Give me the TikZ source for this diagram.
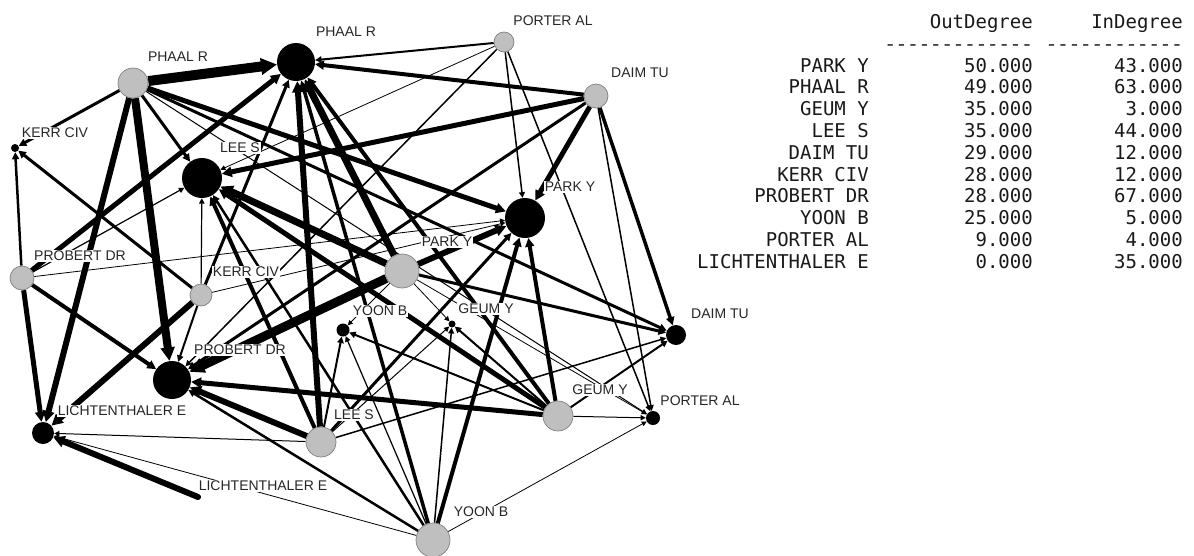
\documentclass[tikz,border=0pt]{standalone}
\usepackage{fontspec}
\setmainfont{Liberation Sans}
\newfontfamily\tabfont{DejaVu Sans Mono}
\newfontfamily\dashfont{Liberation Mono}
\usetikzlibrary{arrows.meta, backgrounds}

\begin{document}
\begin{tikzpicture}[x=1pt, y=-1pt,
    emissor/.style={circle, draw=black!50, fill=black!25, line width=0.7pt, inner sep=0pt},
    receptor/.style={circle, fill=black, inner sep=0pt},
    rotulo/.style={fill=white, inner sep=1pt, font=\fontsize{14}{16}\selectfont, text=black!85},
    lig/.style={-{Triangle[length=4pt 1.2, width=4pt 1.2]}, black},
    tabela/.style={font=\tabfont\fontsize{19}{22}\selectfont, text=black!90, inner sep=0pt, anchor=base east}
]
    \useasboundingbox (0,0) rectangle (1194,555);

    % atores como emissores (cinza)
    \node[emissor, minimum size=30pt] (gPhaal)   at (133,83)  {};
    \node[emissor, minimum size=20pt] (gPorter)  at (504,42)  {};
    \node[emissor, minimum size=24pt] (gDaim)    at (596,96)  {};
    \node[emissor, minimum size=24pt] (gProbert) at (22,278)  {};
    \node[emissor, minimum size=22pt] (gKerr)    at (201,295) {};
    \node[emissor, minimum size=34pt] (gPark)    at (402,271) {};
    \node[emissor, minimum size=30pt] (gGeum)    at (558,416) {};
    \node[emissor, minimum size=30pt] (gLee)     at (321,442) {};
    \node[emissor, minimum size=34pt] (gYoon)    at (433,540) {};
    \coordinate (gLicht) at (198,497);

    % atores como receptores (preto)
    \node[receptor, minimum size=38pt] (bPhaal)   at (296,62)  {};
    \node[receptor, minimum size=40pt] (bLee)     at (202,178) {};
    \node[receptor, minimum size=40pt] (bPark)    at (525,218) {};
    \node[receptor, minimum size=8pt]  (bKerr)    at (15,148)  {};
    \node[receptor, minimum size=38pt] (bProbert) at (172,380) {};
    \node[receptor, minimum size=22pt] (bLicht)   at (43,433)  {};
    \node[receptor, minimum size=13pt] (bYoon)    at (343,330) {};
    \node[receptor, minimum size=7pt]  (bGeum)    at (452,324) {};
    \node[receptor, minimum size=20pt] (bDaim)    at (676,335) {};
    \node[receptor, minimum size=14pt] (bPorter)  at (653,418) {};

    \begin{pgfonlayer}{background}
    \draw[lig, line width=10pt] (gPhaal) -- (bPhaal);
    \draw[lig, line width=3pt] (gPhaal) -- (bKerr);
    \draw[lig, line width=6pt] (gPhaal) -- (bLicht);
    \draw[lig, line width=8pt] (gPhaal) -- (bProbert);
    \draw[lig, line width=3pt] (gPhaal) -- (bLee);
    \draw[lig, line width=5pt] (gPhaal) -- (bPark);
    \draw[lig, line width=3pt] (gPhaal) -- (bDaim);
    \draw[lig, line width=1pt] (gPhaal) -- (bPorter);

    \draw[lig, line width=2pt] (gPorter) -- (bPhaal);
    \draw[lig, line width=0.8pt] (gPorter) -- (bLee);
    \draw[lig, line width=1.5pt] (gPorter) -- (bProbert);
    \draw[lig, line width=1.5pt] (gPorter) -- (bPark);
    \draw[lig, line width=1.5pt] (gPorter) -- (bPorter);

    \draw[lig, line width=4pt] (gDaim) -- (bPhaal);
    \draw[lig, line width=5pt] (gDaim) -- (bLee);
    \draw[lig, line width=3pt] (gDaim) -- (bProbert);
    \draw[lig, line width=5pt] (gDaim) -- (bPark);
    \draw[lig, line width=3.5pt] (gDaim) -- (bDaim);
    \draw[lig, line width=1.5pt] (gDaim) -- (bPorter);

    \draw[lig, line width=2.5pt] (gProbert) -- (bKerr);
    \draw[lig, line width=5pt] (gProbert) -- (bLicht);
    \draw[lig, line width=4pt] (gProbert) -- (bProbert);
    \draw[lig, line width=0.8pt] (gProbert) -- (bPark);
    \draw[lig, line width=5pt] (gProbert) -- (bPhaal);
    \draw[lig, line width=1.2pt] (gProbert) -- (bLee);

    \draw[lig, line width=1.2pt] (gKerr) -- (bLee);
    \draw[lig, line width=2pt] (gKerr) -- (bProbert);
    \draw[lig, line width=3pt] (gKerr) -- (bKerr);
    \draw[lig, line width=0.8pt] (gKerr) -- (bPark);
    \draw[lig, line width=6pt] (gKerr) -- (bLicht);
    \draw[lig, line width=3pt] (gKerr) -- (bPhaal);

    \draw[lig, line width=6pt] (gPark) -- (bPark);
    \draw[lig, line width=7pt] (gPark) -- (bLee);
    \draw[lig, line width=9pt] (gPark) -- (bProbert);
    \draw[lig, line width=7pt] (gPark) -- (bPhaal);
    \draw[lig, line width=0.8pt] (gPark) -- (bGeum);
    \draw[lig, line width=3pt] (gPark) -- (bDaim);
    \draw[lig, line width=0.8pt] (gPark) -- (bPorter);
    \draw[lig, line width=0.8pt] (gPark) -- (bYoon);

    \draw[lig, line width=4pt] (gGeum) -- (bPark);
    \draw[lig, line width=5pt] (gGeum) -- (bLee);
    \draw[lig, line width=4pt] (gGeum) -- (bPhaal);
    \draw[lig, line width=5pt] (gGeum) -- (bProbert);
    \draw[lig, line width=2pt] (gGeum) -- (bYoon);
    \draw[lig, line width=2pt] (gGeum) -- (bGeum);
    \draw[lig, line width=2pt] (gGeum) -- (bDaim);
    \draw[lig, line width=1pt] (gGeum) -- (bPorter);

    \draw[lig, line width=6pt] (gLee) -- (bPhaal);
    \draw[lig, line width=4pt] (gLee) -- (bLee);
    \draw[lig, line width=6pt] (gLee) -- (bProbert);
    \draw[lig, line width=1pt] (gLee) -- (bLicht);
    \draw[lig, line width=3pt] (gLee) -- (bPark);
    \draw[lig, line width=2pt] (gLee) -- (bYoon);
    \draw[lig, line width=1.5pt] (gLee) -- (bDaim);
    \draw[lig, line width=1pt] (gLee) -- (bGeum);

    \draw[lig, line width=4pt] (gYoon) -- (bPark);
    \draw[lig, line width=3.5pt] (gYoon) -- (bPhaal);
    \draw[lig, line width=2.5pt] (gYoon) -- (bProbert);
    \draw[lig, line width=2.5pt] (gYoon) -- (bLee);
    \draw[lig, line width=1.2pt] (gYoon) -- (bYoon);
    \draw[lig, line width=1.5pt] (gYoon) -- (bGeum);
    \draw[lig, line width=0.8pt] (gYoon) -- (bLicht);
    \draw[lig, line width=0.8pt] (gYoon) -- (bPorter);

    \draw[lig, line width=6pt, line cap=round] (gLicht) -- (bLicht);
    \end{pgfonlayer}

    % rotulos
    \node[rotulo] (tgPhaal)   at (178,57)  {PHAAL R};
    \node[rotulo] (tbPhaal)   at (346,32)  {PHAAL R};
    \node[rotulo] (tgPorter)  at (553,21)  {PORTER AL};
    \node[rotulo] (tgDaim)    at (640,73)  {DAIM TU};
    \node[rotulo] (tbKerr)    at (55,133)  {KERR CIV};
    \node[rotulo] (tbLee)     at (240,148) {LEE S};
    \node[rotulo] (tbPark)    at (570,187) {PARK Y};
    \node[rotulo] (tgProbert) at (80,256)  {PROBERT DR};
    \node[rotulo] (tgKerr)    at (246,272) {KERR CIV};
    \node[rotulo] (tgPark)    at (447,242) {PARK Y};
    \node[rotulo] (tbYoon)    at (380,311) {YOON B};
    \node[rotulo] (tbGeum)    at (486,309) {GEUM Y};
    \node[rotulo] (tbDaim)    at (720,314) {DAIM TU};
    \node[rotulo] (tbProbert) at (240,350) {PROBERT DR};
    \node[rotulo] (tgGeum)    at (600,390) {GEUM Y};
    \node[rotulo] (tbPorter)  at (700,401) {PORTER AL};
    \node[rotulo] (tbLicht)   at (122,411) {LICHTENTHALER E};
    \node[rotulo] (tgLee)     at (354,415) {LEE S};
    \node[rotulo] (tgLicht)   at (263,486) {LICHTENTHALER E};
    \node[rotulo] (tgYoon)    at (481,512) {YOON B};

    % tabela de graus
    \node[tabela] (hOut) at (1033,28) {OutDegree};
    \node[tabela] (hIn)  at (1183,28) {InDegree};
    \node[tabela, font=\dashfont\fontsize{19}{22}\selectfont] (dOut) at (1033,50) {-------------};
    \node[tabela, font=\dashfont\fontsize{19}{22}\selectfont] (dIn)  at (1183,50) {------------};
    \foreach \nome/\saida/\entrada [count=\k] in {PARK Y/50.000/43.000, PHAAL R/49.000/63.000,
        GEUM Y/35.000/3.000, LEE S/35.000/44.000, DAIM TU/29.000/12.000, KERR CIV/28.000/12.000,
        PROBERT DR/28.000/67.000, YOON B/25.000/5.000, PORTER AL/9.000/4.000,
        LICHTENTHALER E/0.000/35.000} {
        \node[tabela] (nome\k) at (869,50.2+21.8*\k) {\nome};
        \node[tabela] (out\k)  at (1033,50.2+21.8*\k) {\saida};
        \node[tabela] (in\k)   at (1183,50.2+21.8*\k) {\entrada};
    }
\end{tikzpicture}
\end{document}
